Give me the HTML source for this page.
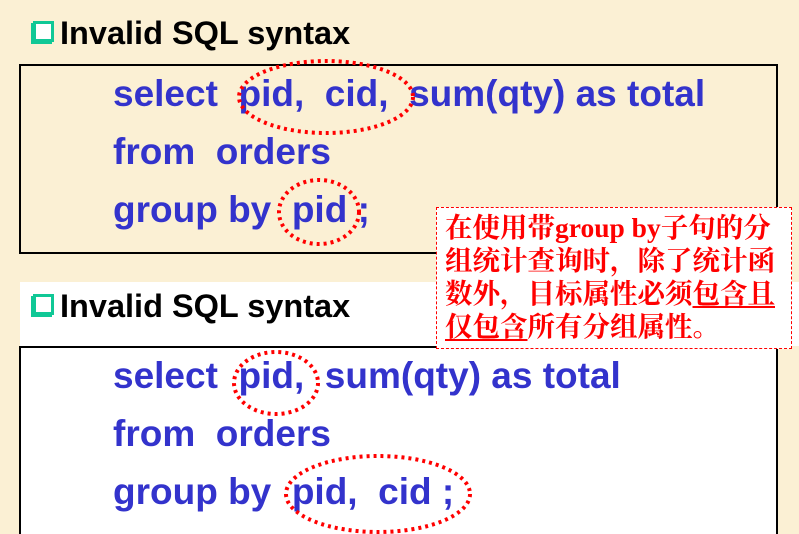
<!DOCTYPE html>
<html><head><meta charset="utf-8"><style>
html,body{margin:0;width:799px;height:534px;overflow:hidden}
body{background:#fbf0d4;position:relative;font-family:"Liberation Sans",Arial,sans-serif}
.t{position:absolute;font-weight:bold;font-size:32.5px;color:#000;white-space:pre;line-height:1}
.cb{position:absolute;width:15px;height:15px;border:3px solid #10c896;background:#fff;box-shadow:-2px 2px 0 #10c896}
.c{position:absolute;font-weight:bold;font-size:37px;color:#3333cc;white-space:pre;line-height:1}
.box{position:absolute;border:2px solid #000}
.call{position:absolute;left:436px;top:207px;width:356px;height:142px;background:#fff;border:1px dashed #f00;box-sizing:border-box;color:#f00;font-family:"Liberation Serif","Noto Serif CJK SC",serif;font-size:27.5px;font-weight:bold;line-height:33px;padding:3px 0 0 8px;white-space:nowrap;overflow:hidden}
u{text-decoration:underline;text-underline-offset:3px}
</style></head><body>
<div class="cb" style="left:33px;top:21px"></div>
<div class="t" style="left:60px;top:17px">Invalid SQL syntax</div>
<div class="box" style="left:19px;top:64px;width:755px;height:186px"></div>
<div class="c" style="left:113px;top:75px">select  pid,  cid,  sum(qty) as total</div>
<div class="c" style="left:113px;top:133px">from  orders</div>
<div class="c" style="left:113px;top:191px">group by  pid ;</div>

<div style="position:absolute;left:20px;top:282px;width:779px;height:252px;background:#fff"></div>
<div style="position:absolute;left:777px;top:346px;width:22px;height:188px;background:#fbf0d4"></div>
<div class="cb" style="left:33px;top:294px"></div>
<div class="t" style="left:60px;top:290px">Invalid SQL syntax</div>
<div class="box" style="left:19px;top:346px;width:755px;height:186px;border-bottom:none"></div>
<div class="c" style="left:113px;top:357px">select  pid,  sum(qty) as total</div>
<div class="c" style="left:113px;top:415px">from  orders</div>
<div class="c" style="left:113px;top:473px">group by  pid,  cid ;</div>

<svg style="position:absolute;left:0;top:0" width="799" height="534">
<g fill="none" stroke="#f00" stroke-width="4" stroke-dasharray="3 4">
<ellipse cx="326" cy="97" rx="87" ry="36"/>
<ellipse cx="319" cy="212" rx="40" ry="32"/>
<ellipse cx="276" cy="383" rx="42" ry="31"/>
<ellipse cx="378" cy="494" rx="92" ry="38"/>
</g></svg>

<div class="call">在使用带group by子句的分<br>组统计查询时，除了统计函<br>数外，目标属性必须<u>包含且</u><br><u>仅包含</u>所有分组属性。</div>
</body></html>
